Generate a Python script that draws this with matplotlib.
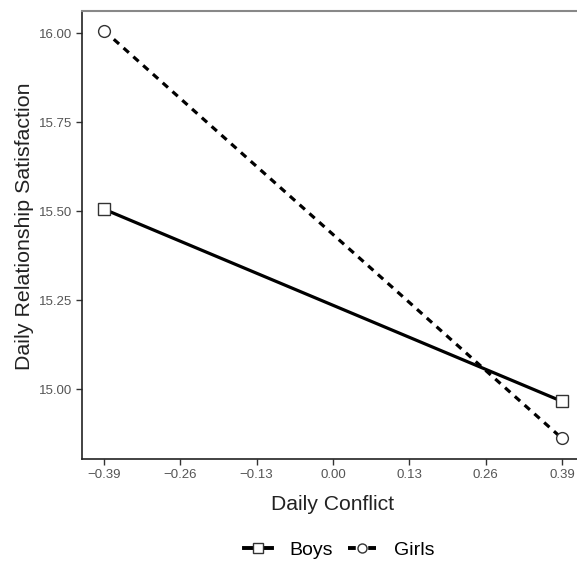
import matplotlib
matplotlib.use("Agg")
import matplotlib.pyplot as plt
from matplotlib.lines import Line2D

plt.rcParams['font.family'] = ['Liberation Sans', 'DejaVu Sans']

conflict = [-0.39, 0.39]
boys = [15.506, 14.966]
girls = [16.008, 14.862]
xticks = [-0.39, -0.26, -0.13, 0.00, 0.13, 0.26, 0.39]
yticks = [15.00, 15.25, 15.50, 15.75, 16.00]

W, H = 577, 561
fig = plt.figure(figsize=(W/100, H/100), dpi=100)
ax = fig.add_axes([82/W, 102/H, 502/W, 448/H])

ax.plot(conflict, boys, color='black', lw=2.3, ls='-', marker='s', ms=8,
        mfc='white', mec='#333333', mew=1.0, label='Boys')
ax.plot(conflict, girls, color='black', lw=2.3, ls=(0, (2.2, 1.9)), marker='o', ms=8.5,
        mfc='white', mec='#333333', mew=1.0, label='Girls')

ax.set_xlim(-0.4275, 0.4275)
ax.set_ylim(14.804, 16.063)
ax.set_xticks(xticks)
ax.set_xticklabels(['\u22120.39', '\u22120.26', '\u22120.13', '0.00', '0.13', '0.26', '0.39'])
ax.set_yticks(yticks)
ax.set_yticklabels([f'{v:.2f}' for v in yticks])
ax.tick_params(axis='both', direction='out', length=4, width=1, color='#333333',
               labelcolor='#555555', labelsize=9.5, pad=3)

for s in ['left', 'bottom']:
    ax.spines[s].set_color('#222222')
    ax.spines[s].set_linewidth(1.2)
ax.spines['top'].set_color('#888888')
ax.spines['top'].set_linewidth(1.5)
ax.spines['right'].set_visible(False)

ax.set_xlabel('Daily Conflict', fontsize=15.2, color='#222222', labelpad=10)
ax.set_ylabel('Daily Relationship Satisfaction', fontsize=15.4, color='#222222')
ax.yaxis.set_label_coords((34 - 82) / 502, (459 - 226) / 448)

handles = [
    Line2D([], [], color='black', lw=2.8, ls='-', marker='s', ms=6.5, mfc='white', mec='#333333', mew=1.0),
    Line2D([], [], color='black', lw=2.8, ls=(0, (2.0, 3.2)), marker='o', ms=6.5, mfc='white', mec='#333333', mew=1.0),
]
fig.legend(handles, ['Boys', 'Girls'], loc='center', bbox_to_anchor=(339/W, 1 - 550/H),
           ncol=2, frameon=False, fontsize=14, handlelength=1.45, columnspacing=0.8,
           handletextpad=0.9, borderpad=0.2)

fig.savefig('out.png', dpi=100)
